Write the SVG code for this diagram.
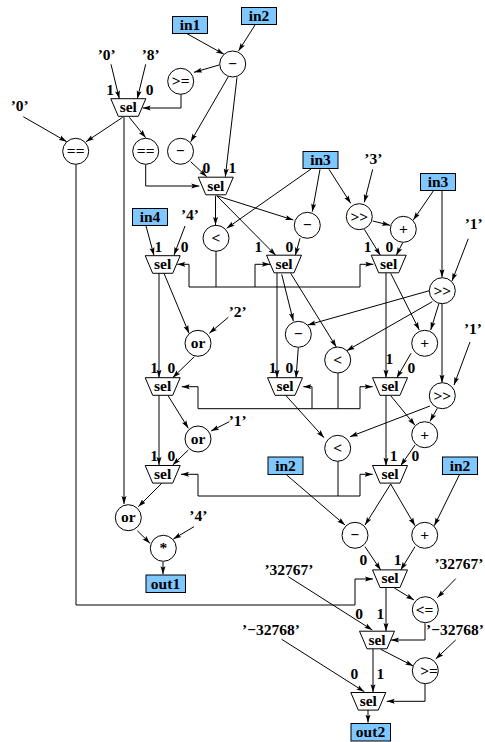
<svg xmlns="http://www.w3.org/2000/svg" width="485" height="742" viewBox="0 0 485 742">
<style>
text{font-family:"Liberation Serif","Times New Roman",serif;font-weight:bold;font-size:15.5px;text-anchor:middle;fill:#000}
.n circle,.n use{fill:#fff;stroke:#000;stroke-width:1}
.n rect{fill:#7fc7ff;stroke:#000;stroke-width:1}
#c path{fill:none;stroke:#000;stroke-width:1;marker-end:url(#a)}
#c path.j{marker-end:none}
</style>
<defs>
<marker id="a" markerUnits="userSpaceOnUse" markerWidth="9" markerHeight="7" refX="8" refY="3" orient="auto"><path d="M0,0.5L8,3L0,5.5L1.5,3Z" fill="#000"/></marker>
<polygon id="mux" points="-17.5,-8.8 17.5,-8.8 10,8.8 -10,8.8"/>
</defs>
<rect width="485" height="742" fill="#fff"/>
<g id="c">
<path d="M186.7,33.5L224,54.3"/>
<path d="M255,25L238.5,51"/>
<path d="M219,65L194,72.3"/>
<path d="M181,94V108H142.7"/>
<path d="M228.3,76.7L190.7,141.7"/>
<path d="M237,77.3L225.3,176.7"/>
<path d="M190.7,161.7L206.7,176.7"/>
<path d="M111,64.3L119.3,98.7"/>
<path d="M145.7,64.3L137.3,98.7"/>
<path d="M23.3,116.7L66.7,141.7"/>
<path d="M122.7,117.3L86,141.7"/>
<path d="M129.3,117.3L145.7,137.7"/>
<path d="M124,117V504"/>
<path d="M76,164V605H355V579H373"/>
<path d="M145.7,164.5V186H199.3"/>
<path d="M215.5,195.7V225"/>
<path d="M216.7,195.7L293.3,220"/>
<path d="M216.7,195.7L275.7,255.3"/>
<path d="M311,169L226.7,228.3"/>
<path d="M320,169.3L312.3,211.7"/>
<path d="M329,169.3L350.7,203.3"/>
<path d="M372.7,169.3L364.3,202.3"/>
<path d="M433.3,191L413.3,220"/>
<path d="M442,191V277.3"/>
<path d="M468.3,238.7L452,281"/>
<path d="M372.7,221L390,225.3"/>
<path d="M364.3,229.3L380.3,255.3"/>
<path d="M402.7,242.7L396.3,255.3"/>
<path d="M300,238.3L295.3,255.3"/>
<path class="j" d="M216,251V287"/>
<path d="M189,287V264.3H177.3"/>
<path class="j" d="M189,287H360"/>
<path d="M360,287V264.3H373.3"/>
<path d="M255,287V264.3H270"/>
<path d="M146,226L154,255.5"/>
<path d="M185,226L174,255"/>
<path d="M164,273.3L189,333.3"/>
<path d="M228.3,317.3L209.3,333.3"/>
<path d="M159,273V377.7"/>
<path d="M194.3,356.7L172.7,377.7"/>
<path d="M198,408.7V386.7H181.7"/>
<path class="j" d="M198,408.7H360"/>
<path d="M360,408.7V386.7H372.7"/>
<path d="M312,408.7V386.7H303.3"/>
<path class="j" d="M338,373V408.7"/>
<path d="M277,273V377.7"/>
<path d="M281.7,274.3L293.3,321"/>
<path d="M290.7,273.3L336.3,347"/>
<path d="M429.3,290.7L307.7,325"/>
<path d="M432.3,301.7L346.7,350.7"/>
<path d="M439,303.3L430.7,330"/>
<path d="M442,304V382.7"/>
<path d="M470,342L454,385"/>
<path d="M390.7,273.3L419.3,330"/>
<path d="M386,273V377.7"/>
<path d="M298.3,347.7L296,378"/>
<path d="M411,353.3L396.7,378"/>
<path d="M285.7,395.3L324,437.7"/>
<path d="M430,406L350,436.7"/>
<path d="M437.3,408.3L430,421.3"/>
<path d="M390.7,395.7L415,425.3"/>
<path d="M386,395V465.7"/>
<path d="M415,445L400.7,465.7"/>
<path class="j" d="M338,461V496"/>
<path d="M198,496V474.3H181"/>
<path class="j" d="M198,496H360"/>
<path d="M360,496V474.3H372.7"/>
<path d="M168.3,396L188.3,428.3"/>
<path d="M229.3,421.7L211,431"/>
<path d="M159,395V465"/>
<path d="M188.3,450L172.7,465"/>
<path d="M161.7,483.3L138.3,506.7"/>
<path d="M137.3,530.7L150,543.3"/>
<path d="M194,526.7L173.3,539"/>
<path d="M163,561.7V574.3"/>
<path d="M286.7,475L345,525"/>
<path d="M390.7,484L365,525"/>
<path d="M390.7,484L415,525.7"/>
<path d="M459.3,475L434.3,525.7"/>
<path d="M365,546.7L380.7,570"/>
<path d="M415,546.7L400.7,570"/>
<path d="M394.3,588L414,600"/>
<path d="M455.7,578.7L437.3,597.7"/>
<path d="M386,588V631"/>
<path d="M288.3,576.7L372.3,630"/>
<path d="M425,623.3V640H391"/>
<path d="M380.7,649.3L413.3,666"/>
<path d="M455.7,640L435.7,659"/>
<path d="M373,649V692.3"/>
<path d="M281.7,639.3L364.3,691.7"/>
<path d="M425,684V701.3H386.7"/>
<path d="M368,710V722.7"/>
</g>
<g id="in1" class="n"><rect x="172.5" y="16.5" width="35" height="17"/><text x="190" y="30">in1</text></g>
<g id="in2a" class="n"><rect x="241.5" y="7.5" width="35" height="17"/><text x="259" y="21">in2</text></g>
<g id="sub1" class="n"><circle cx="232.7" cy="64" r="13"/><text x="232.7" y="68.5">−</text></g>
<g id="ge1" class="n"><circle cx="180.7" cy="81.3" r="13"/><text x="180.7" y="86">&gt;=</text></g>
<g id="sel1" class="n"><use href="#mux" x="128.3" y="107.5"/><text x="128.3" y="112">sel</text></g>
<g id="eq1" class="n"><circle cx="75.7" cy="151.3" r="13"/><text x="75.7" y="156">==</text></g>
<g id="eq2" class="n"><circle cx="145.7" cy="151.3" r="13"/><text x="145.7" y="156">==</text></g>
<g id="neg1" class="n"><circle cx="180.5" cy="151.3" r="13"/><text x="180.5" y="156">−</text></g>
<g id="sel2" class="n"><use href="#mux" x="215.8" y="186"/><text x="215.8" y="190.5">sel</text></g>
<g id="in3a" class="n"><rect x="303" y="151.5" width="35" height="17"/><text x="320.5" y="165">in3</text></g>
<g id="in3b" class="n"><rect x="420.5" y="173.5" width="35" height="17"/><text x="438" y="187">in3</text></g>
<g id="in4" class="n"><rect x="132.5" y="208.5" width="35" height="17"/><text x="150" y="222">in4</text></g>
<g id="lt1" class="n"><circle cx="216" cy="238.3" r="13"/><text x="216" y="243">&lt;</text></g>
<g id="sub2" class="n"><circle cx="307.3" cy="225.3" r="13"/><text x="307.3" y="230">−</text></g>
<g id="shr1" class="n"><circle cx="359.3" cy="216.7" r="13"/><text x="359.3" y="221.5">&gt;&gt;</text></g>
<g id="add1" class="n"><circle cx="403.3" cy="229.3" r="13"/><text x="403.3" y="234">+</text></g>
<g id="sel3" class="n"><use href="#mux" x="162.7" y="264.5"/><text x="162.7" y="269">sel</text></g>
<g id="sel4" class="n"><use href="#mux" x="284" y="264"/><text x="284" y="268.5">sel</text></g>
<g id="sel5" class="n"><use href="#mux" x="388.7" y="264"/><text x="388.7" y="268.5">sel</text></g>
<g id="shr2" class="n"><circle cx="442.3" cy="290.7" r="13"/><text x="442.3" y="295.5">&gt;&gt;</text></g>
<g id="sub3" class="n"><circle cx="298.3" cy="334.3" r="13"/><text x="298.3" y="339">−</text></g>
<g id="lt2" class="n"><circle cx="337.7" cy="360" r="13"/><text x="337.7" y="364.5">&lt;</text></g>
<g id="add2" class="n"><circle cx="424.7" cy="343.3" r="13"/><text x="424.7" y="348">+</text></g>
<g id="or1" class="n"><circle cx="198" cy="343.3" r="13"/><text x="198" y="348">or</text></g>
<g id="sel6" class="n"><use href="#mux" x="162.7" y="386.5"/><text x="162.7" y="391">sel</text></g>
<g id="sel7" class="n"><use href="#mux" x="285" y="386.5"/><text x="285" y="391">sel</text></g>
<g id="sel8" class="n"><use href="#mux" x="390" y="386.5"/><text x="390" y="391">sel</text></g>
<g id="shr3" class="n"><circle cx="442.3" cy="395.7" r="13"/><text x="442.3" y="400.5">&gt;&gt;</text></g>
<g id="add3" class="n"><circle cx="424.7" cy="434.7" r="13"/><text x="424.7" y="439.5">+</text></g>
<g id="or2" class="n"><circle cx="198" cy="439" r="13"/><text x="198" y="443.5">or</text></g>
<g id="lt3" class="n"><circle cx="337.7" cy="448.3" r="13"/><text x="337.7" y="453">&lt;</text></g>
<g id="in2b" class="n"><rect x="268" y="457" width="35" height="17.5"/><text x="285.5" y="471">in2</text></g>
<g id="in2c" class="n"><rect x="442.5" y="457" width="35" height="17.5"/><text x="460" y="471">in2</text></g>
<g id="sel9" class="n"><use href="#mux" x="162.7" y="474.3"/><text x="162.7" y="479">sel</text></g>
<g id="sel10" class="n"><use href="#mux" x="390" y="474.3"/><text x="390" y="479">sel</text></g>
<g id="or3" class="n"><circle cx="128.3" cy="517.7" r="13"/><text x="128.3" y="522">or</text></g>
<g id="sub4" class="n"><circle cx="355" cy="535.3" r="13"/><text x="355" y="540">−</text></g>
<g id="add4" class="n"><circle cx="424.7" cy="535.3" r="13"/><text x="424.7" y="540">+</text></g>
<g id="mul" class="n"><circle cx="163.3" cy="548.3" r="13"/><text x="163.3" y="553">*</text></g>
<g id="out1" class="n"><rect x="146" y="575" width="39.5" height="17.5"/><text x="165.5" y="589">out1</text></g>
<g id="sel11" class="n"><use href="#mux" x="390" y="578.7"/><text x="390" y="583">sel</text></g>
<g id="le" class="n"><circle cx="425.3" cy="609.7" r="13"/><text x="424.5" y="614.5">&lt;=</text></g>
<g id="sel12" class="n"><use href="#mux" x="377" y="640"/><text x="377" y="644.5">sel</text></g>
<g id="ge2" class="n"><circle cx="425.3" cy="670.7" r="13"/><text x="429" y="675.5">&gt;=</text></g>
<g id="sel13" class="n"><use href="#mux" x="368.3" y="701.3"/><text x="368.3" y="706">sel</text></g>
<g id="out2" class="n"><rect x="351" y="723.5" width="39.5" height="17.5"/><text x="370.5" y="737">out2</text></g>
<g id="labels">
<text x="106.7" y="60">’0’</text><text x="150.7" y="60">’8’</text><text x="19.7" y="111">’0’</text>
<text x="110" y="95">1</text><text x="149.7" y="95">0</text>
<text x="206.3" y="173">0</text><text x="232.3" y="173">1</text>
<text x="190" y="220">’4’</text><text x="373.3" y="164">’3’</text>
<text x="473.7" y="229">’1’</text><text x="473" y="334">’1’</text>
<text x="237.7" y="317">’2’</text><text x="237.7" y="426">’1’</text>
<text x="198.3" y="521">’4’</text>
<text x="158.3" y="251.5">1</text><text x="184.7" y="251.5">0</text>
<text x="258.3" y="251.5">1</text><text x="289.3" y="251.5">0</text>
<text x="367.7" y="251.5">1</text><text x="389.3" y="251.5">0</text>
<text x="154" y="373">1</text><text x="171.3" y="373">0</text>
<text x="272.7" y="373">1</text><text x="289.3" y="373">0</text>
<text x="389.3" y="364">1</text><text x="411.3" y="373">0</text>
<text x="154" y="461">1</text><text x="171.3" y="461">0</text>
<text x="393.7" y="461">1</text><text x="415.3" y="461">0</text>
<text x="363.3" y="565">0</text><text x="397.7" y="565">1</text>
<text x="289" y="575">’32767’</text><text x="459" y="568.5">’32767’</text>
<text x="359" y="618.5">0</text><text x="380.3" y="618.5">1</text>
<text x="271" y="635">’−32768’</text><text x="455" y="635">’−32768’</text>
<text x="354.3" y="678.5">0</text><text x="380.3" y="678.5">1</text>
</g>
</svg>
